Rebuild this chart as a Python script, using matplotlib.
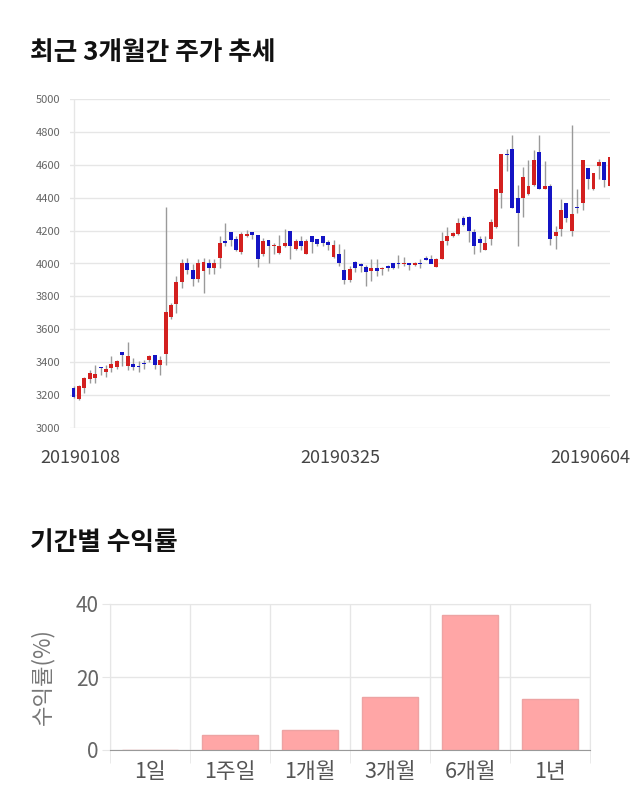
import numpy as np
import matplotlib
matplotlib.use("Agg")
import matplotlib.pyplot as plt

plt.rcParams['font.family'] = ['Noto Sans CJK KR', 'DejaVu Sans']

# daily candles, 2019-01-08 .. 2019-06-04 (100 trading days)
opens = [3245, 3175, 3245, 3300, 3305, 3370, 3340, 3365, 3370, 3465,
         3375, 3390, 3375, 3395, 3415, 3445, 3380, 3450, 3675, 3755,
         3890, 4005, 3960, 3905, 3955, 4005, 3970, 4035, 4135, 4190,
         4150, 4070, 4165, 4190, 4175, 4060, 4145, 4105, 4065, 4105,
         4195, 4090, 4135, 4060, 4165, 4150, 4170, 4130, 4040, 4055,
         3960, 3900, 4010, 4000, 3980, 3955, 3975, 3965, 3985, 4000,
         4005, 3995, 4005, 3990, 4000, 4035, 4030, 3980, 4030, 4135,
         4170, 4180, 4275, 4280, 4190, 4150, 4085, 4150, 4220, 4430,
         4665, 4695, 4400, 4400, 4425, 4480, 4675, 4455, 4470, 4165,
         4210, 4370, 4200, 4345, 4365, 4580, 4450, 4590, 4615, 4470]
highs = [3255, 3260, 3310, 3355, 3380, 3370, 3385, 3435, 3415, 3465,
         3525, 3425, 3405, 3415, 3445, 3445, 3435, 4345, 3760, 3925,
         4025, 4035, 3995, 4025, 4035, 4030, 4025, 4165, 4245, 4190,
         4165, 4190, 4205, 4190, 4175, 4155, 4145, 4125, 4175, 4210,
         4195, 4150, 4170, 4150, 4165, 4150, 4170, 4145, 4145, 4120,
         4090, 3985, 4015, 4005, 3990, 4030, 4030, 3980, 3990, 4005,
         4050, 4040, 4005, 4010, 4025, 4045, 4050, 4035, 4190, 4220,
         4190, 4275, 4290, 4290, 4210, 4165, 4165, 4270, 4450, 4665,
         4695, 4780, 4480, 4585, 4630, 4690, 4780, 4625, 4485, 4230,
         4390, 4370, 4840, 4450, 4630, 4580, 4550, 4635, 4615, 4650]
lows = [3185, 3170, 3210, 3275, 3275, 3320, 3310, 3340, 3360, 3375,
        3355, 3355, 3340, 3360, 3400, 3360, 3325, 3380, 3660, 3700,
        3850, 3935, 3865, 3885, 3820, 3935, 3935, 3975, 4105, 4105,
        4075, 4055, 4160, 4150, 3980, 4045, 4000, 4055, 4055, 4100,
        4025, 4080, 4085, 4055, 4065, 4105, 4105, 4085, 4035, 3985,
        3875, 3885, 3950, 3950, 3865, 3895, 3925, 3930, 3955, 3965,
        3975, 3985, 3960, 3985, 3975, 4020, 4000, 3980, 4025, 4115,
        4160, 4175, 4225, 4130, 4060, 4070, 4080, 4115, 4215, 4335,
        4565, 4335, 4105, 4280, 4415, 4470, 4450, 4450, 4115, 4090,
        4170, 4255, 4170, 4310, 4325, 4450, 4445, 4515, 4465, 4470]
closes = [3190, 3255, 3305, 3335, 3330, 3365, 3360, 3390, 3410, 3445,
          3435, 3370, 3370, 3390, 3435, 3380, 3415, 3705, 3745, 3890,
          4000, 3960, 3905, 4000, 4010, 3970, 4005, 4125, 4125, 4145,
          4085, 4180, 4180, 4175, 4025, 4135, 4105, 4115, 4105, 4125,
          4105, 4135, 4105, 4135, 4130, 4120, 4125, 4115, 4115, 4005,
          3900, 3965, 3970, 3985, 3950, 3970, 3955, 3970, 3970, 3970,
          3995, 4005, 3990, 4005, 3995, 4020, 4000, 4025, 4135, 4170,
          4185, 4245, 4235, 4200, 4105, 4125, 4125, 4255, 4450, 4665,
          4660, 4335, 4310, 4525, 4470, 4630, 4450, 4470, 4150, 4190,
          4325, 4275, 4300, 4340, 4630, 4515, 4550, 4615, 4505, 4650]
date_labels = ['20190108', '20190325', '20190604']
date_label_pos = [1.2, 49.3, 95.4]

periods = ['1일', '1주일', '1개월', '3개월', '6개월', '1년']
returns = [0.0, 4.1, 5.5, 14.5, 37.1, 13.9]

UP = '#d3201f'
DOWN = '#1414c4'
WICK = '#9a9a9a'
GRID = '#e6e6e6'

fig = plt.figure(figsize=(6.4, 8.1), dpi=100)
fig.patch.set_facecolor('white')

fig.text(30 / 640, 1 - 52 / 810, '최근 3개월간 주가 추세', fontsize=18.5,
         fontweight='bold', color='#111111', va='center', ha='left')
fig.text(30 / 640, 1 - 543 / 810, '기간별 수익률', fontsize=18.5,
         fontweight='bold', color='#111111', va='center', ha='left')

# candle chart
ax = fig.add_axes([70 / 640, 1 - 428 / 810, 540 / 640, 329 / 810])
o = np.array(opens, dtype=float)
h = np.array(highs, dtype=float)
l = np.array(lows, dtype=float)
c = np.array(closes, dtype=float)
x = np.arange(len(o))
cols = np.where(c >= o, UP, DOWN)

ax.axvline(0, color=GRID, lw=1, zorder=0)
ax.vlines(x, l, h, color=WICK, lw=1, zorder=2)
body_lo = np.minimum(o, c)
body_h = np.maximum(np.abs(c - o), 6)
ax.bar(x, body_h, bottom=body_lo, width=0.72, color=cols, lw=0, zorder=3)

ax.set_xlim(-0.65, 99.05)
ax.set_ylim(3000, 5000)
ax.set_yticks(np.arange(3000, 5001, 200))
ax.yaxis.grid(True, color=GRID, lw=1)
ax.set_axisbelow(True)
ax.tick_params(axis='y', length=0, labelsize=8, labelcolor='#666666', pad=7)
ax.set_xticks(date_label_pos)
ax.set_xticklabels(date_labels)
ax.tick_params(axis='x', length=0, labelsize=13, labelcolor='#444444', pad=15)
for s in ax.spines.values():
    s.set_visible(False)

# period returns
ax2 = fig.add_axes([110 / 640, 1 - 750 / 810, 480 / 640, 146 / 810])
pos = np.arange(len(periods))
ax2.bar(pos, returns, width=0.7, color='#ffa6a6', edgecolor='#eda3a3',
        lw=1, zorder=3)
ax2.set_xlim(-0.5, len(periods) - 0.5)
ax2.set_ylim(0, 40)
ax2.set_yticks([0, 20, 40])
ax2.set_xticks(pos)
ax2.set_xticklabels(periods)
ax2.set_xticks(np.arange(-0.5, len(periods)), minor=True)
ax2.xaxis.grid(True, which='minor', color=GRID, lw=1)
ax2.yaxis.grid(True, color=GRID, lw=1)
ax2.set_axisbelow(True)
ax2.tick_params(axis='x', which='major', length=0, labelsize=15.5,
                labelcolor='#555555', pad=8)
ax2.tick_params(axis='x', which='minor', length=9, color=GRID)
ax2.tick_params(axis='y', length=6, color=GRID, labelsize=15,
                labelcolor='#666666', pad=2)
ax2.set_ylabel('수익률(%)', fontsize=16, color='#777777')
ax2.yaxis.set_label_coords(-0.115, 0.5)
for name, s in ax2.spines.items():
    s.set_color(GRID)
ax2.spines['bottom'].set_color('#999999')
ax2.spines['bottom'].set_zorder(4)

fig.savefig('out.png', dpi=100, facecolor='white')
